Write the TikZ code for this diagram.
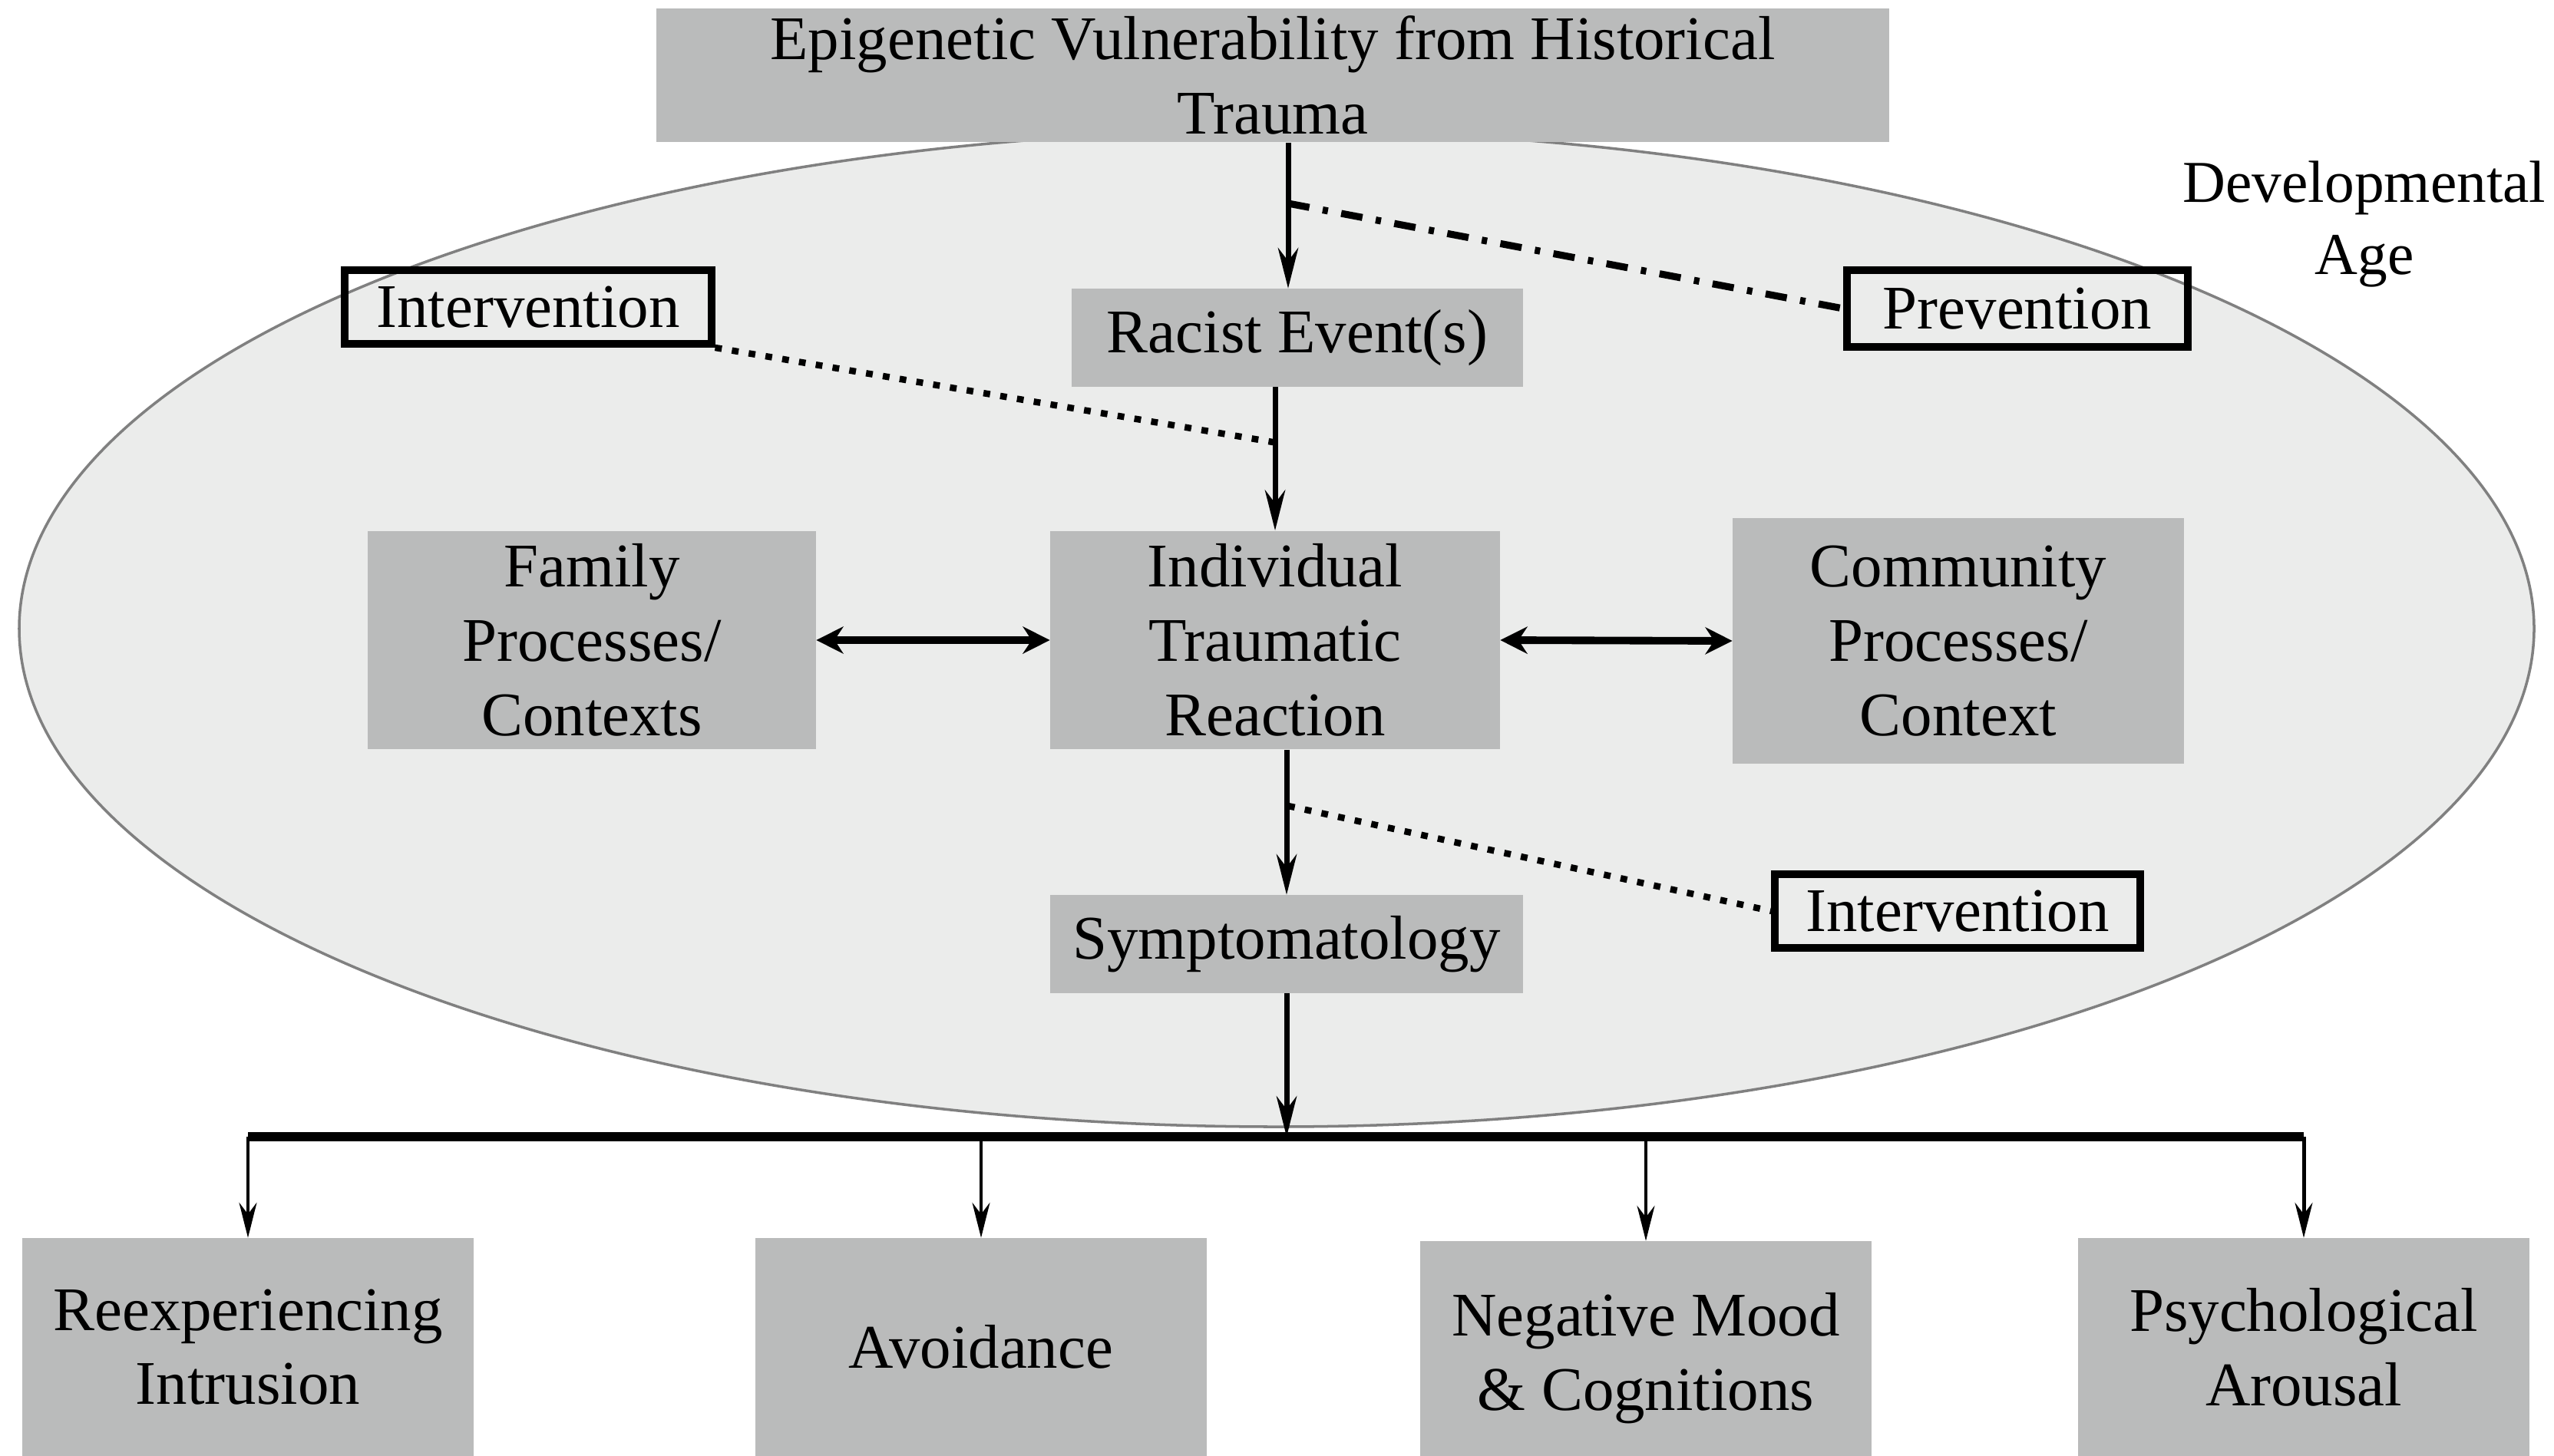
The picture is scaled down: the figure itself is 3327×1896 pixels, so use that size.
\documentclass[tikz,border=0pt]{standalone}
\usepackage{fontspec}
\setmainfont{Liberation Serif}
\usetikzlibrary{arrows.meta,calc}
\definecolor{boxgray}{RGB}{186,187,187}
\definecolor{ellfill}{RGB}{235,236,235}
\definecolor{ellline}{RGB}{128,128,128}
\tikzset{
  gbox/.style={fill=boxgray, draw=none, align=center, inner sep=0pt, font=\fontsize{23}{27.5}\selectfont},
  ibox/.style={draw=black, line width=2.8pt, align=center, inner sep=0pt, font=\fontsize{23}{27.5}\selectfont},
  arr/.style={line width=2pt, -{Stealth[length=15pt, width=7.5pt]}},
  arrthin/.style={line width=1.4pt, -{Stealth[length=13pt, width=6.5pt]}},
  darr/.style={line width=2.8pt, {Stealth[length=10pt, width=10pt]}-{Stealth[length=10pt, width=10pt]}},
  dotline/.style={line width=2.4pt, dash pattern=on 2.5pt off 3.8pt},
  dashdotline/.style={line width=2.6pt, dash pattern=on 8pt off 5pt on 2pt off 5pt},
}
\begin{document}
\begin{tikzpicture}[x=0.01cm, y=-0.01cm]
\useasboundingbox (0,0) rectangle (3327,1896);
% ellipse (developmental age)
\draw[fill=ellfill, draw=ellline, line width=1pt] (1663,819) ellipse [x radius=1638, y radius=649];
% nodes
\node[gbox, minimum width=16.06cm, minimum height=1.74cm] (top) at (1658,98) {Epigenetic Vulnerability from Historical\\Trauma};
\node[gbox, minimum width=5.88cm, minimum height=1.27cm] (racist) at (1690,440) {\raisebox{-0.12cm}{Racist Event(s)}};
\node[ibox, minimum width=4.77cm, minimum height=0.96cm] (intL) at (688,400) {Intervention};
\node[ibox, minimum width=4.44cm, minimum height=1.00cm] (prev) at (2628,402) {Prevention};
\node[gbox, minimum width=5.83cm, minimum height=2.84cm] (fam) at (771,834) {Family\\Processes/\\Contexts};
\node[gbox, minimum width=5.85cm, minimum height=2.84cm] (ind) at (1661,834) {Individual\\Traumatic\\Reaction};
\node[gbox, minimum width=5.87cm, minimum height=3.20cm] (com) at (2551,835) {Community\\Processes/\\Context};
\node[gbox, minimum width=6.15cm, minimum height=1.27cm] (sym) at (1676,1230) {\raisebox{-0.1cm}{Symptomatology}};
\node[ibox, minimum width=4.75cm, minimum height=0.96cm] (intR) at (2550,1187) {Intervention};
\node[gbox, minimum width=5.87cm, minimum height=2.83cm] (reexp) at (323,1755) {Reexperiencing\\Intrusion};
\node[gbox, minimum width=5.87cm, minimum height=2.83cm] (avoid) at (1278,1755) {Avoidance};
\node[gbox, minimum width=5.88cm, minimum height=2.79cm, text depth=0pt] (neg) at (2144,1757) {\raisebox{-0.08cm}{Negative Mood}\\\raisebox{-0.08cm}{\&{} Cognitions}};
\node[gbox, minimum width=5.88cm, minimum height=2.83cm] (psych) at (3001,1755) {Psychological\\Arousal};
\node[align=center, inner sep=0pt, font=\fontsize{22}{27}\selectfont] (dev) at (3080,292) {Developmental\\Age};
% helper coordinates
\coordinate (ax) at (1678,0);
\coordinate (bar) at (0,1481);
\coordinate (pv) at (1678,265);
\coordinate (iv) at (1664,577);
\coordinate (rv) at (1678,1050);
% main chain
\draw[arr] (top.south -| ax) -- (racist.north -| ax);
\draw[arr] (racist.south -| ind.north) -- (ind.north);
\draw[arr] (ind.south -| sym.north) -- (sym.north);
\draw[arr] (sym.south) -- (sym.south |- bar);
% horizontal bar
\draw[line width=3.2pt] (reexp.north |- bar) -- (psych.north |- bar);
\draw[arrthin] (reexp.north |- bar) -- (reexp.north);
\draw[arrthin] (avoid.north |- bar) -- (avoid.north);
\draw[arrthin] (neg.north |- bar) -- (neg.north);
\draw[arrthin] (psych.north |- bar) -- (psych.north);
% lateral double arrows
\draw[darr] (fam.east) -- (ind.west);
\draw[darr] (ind.east) -- (com.west);
% prevention / intervention links
\draw[dashdotline] (pv) -- (prev.west);
\draw[dotline] (intL.south east) -- (iv);
\draw[dotline] (rv) -- (intR.west);
\end{tikzpicture}
\end{document}
